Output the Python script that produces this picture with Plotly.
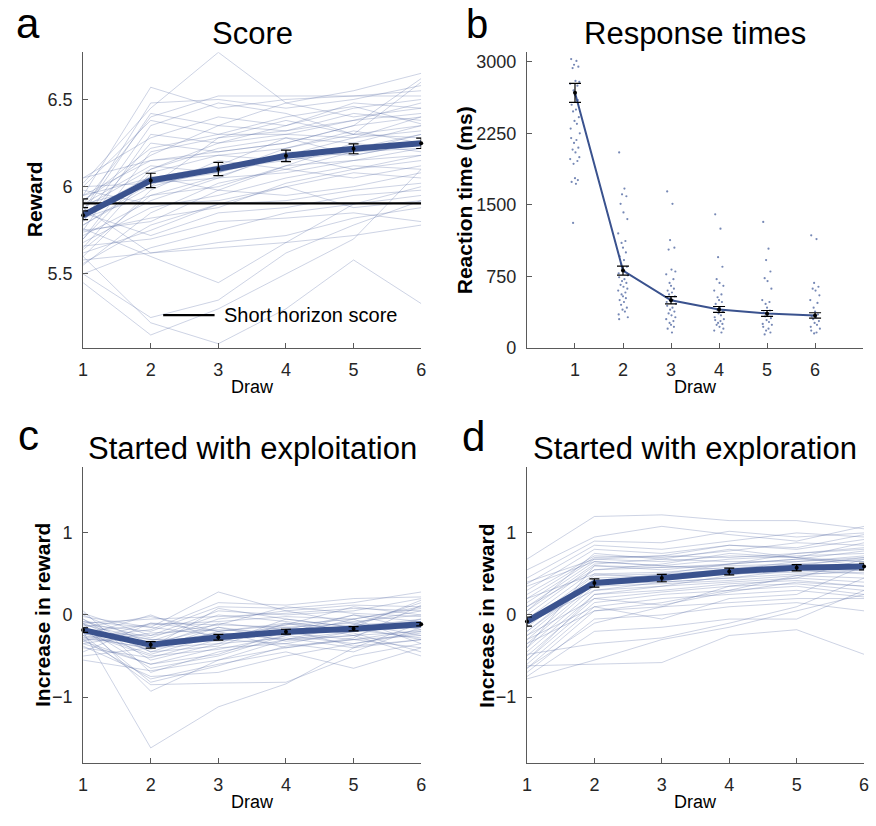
import plotly.graph_objects as go

W, H = 876, 826
FONT = "Liberation Sans, Arial, Helvetica, sans-serif"

draws = [1, 2, 3, 4, 5, 6]

# ---------------- Panel a: score per draw ----------------
score_subjects = [
    [5.95, 6.57, 6.45, 6.50, 6.52, 6.55],
    [6.02, 6.45, 6.77, 6.48, 6.40, 6.45],
    [5.90, 6.40, 6.52, 6.52, 6.52, 6.52],
    [5.85, 6.42, 6.35, 6.48, 6.55, 6.65],
    [5.80, 6.35, 6.48, 6.42, 6.30, 6.60],
    [5.75, 6.30, 6.25, 6.35, 6.45, 6.50],
    [5.92, 6.22, 6.30, 6.30, 6.38, 6.42],
    [5.70, 6.20, 6.28, 6.38, 6.30, 6.35],
    [6.05, 6.15, 6.20, 6.25, 6.35, 6.40],
    [5.88, 6.10, 6.25, 6.30, 6.28, 6.32],
    [5.65, 6.08, 6.18, 6.22, 6.30, 6.28],
    [5.95, 6.05, 6.12, 6.28, 6.25, 6.35],
    [5.78, 6.00, 6.10, 6.15, 6.22, 6.30],
    [6.00, 6.02, 6.05, 6.20, 6.18, 6.25],
    [5.60, 5.98, 6.15, 6.10, 6.20, 6.22],
    [5.82, 5.95, 6.00, 6.12, 6.25, 6.20],
    [5.72, 5.92, 6.05, 6.08, 6.15, 6.18],
    [5.90, 6.12, 6.08, 6.18, 6.10, 6.15],
    [5.68, 5.88, 5.95, 6.05, 6.12, 6.10],
    [5.55, 5.85, 6.02, 6.10, 6.05, 6.12],
    [5.98, 5.90, 5.92, 6.00, 6.08, 6.05],
    [5.75, 5.80, 5.98, 5.95, 6.00, 6.08],
    [5.62, 5.75, 5.90, 5.92, 5.98, 6.02],
    [5.85, 5.72, 5.85, 5.88, 5.95, 5.98],
    [5.50, 5.65, 5.75, 5.85, 5.90, 5.95],
    [5.88, 5.62, 5.68, 5.72, 5.82, 5.88],
    [5.66, 5.70, 5.80, 5.82, 5.85, 5.80],
    [5.58, 5.62, 5.65, 5.68, 5.72, 5.78],
    [5.50, 5.25, 5.35, 5.62, 5.78, 5.92],
    [5.45, 5.15, 5.30, 5.50, 5.70, 6.10],
    [5.60, 5.22, 5.10, 5.30, 5.58, 5.33],
    [5.92, 6.18, 6.35, 6.32, 6.42, 6.38],
    [5.80, 6.25, 6.20, 6.25, 6.35, 6.62],
    [5.70, 6.10, 6.22, 6.28, 6.18, 6.25],
    [6.05, 6.28, 6.40, 6.35, 6.48, 6.45],
    [5.78, 6.02, 6.08, 6.22, 6.32, 6.25],
    [5.95, 6.15, 6.18, 6.15, 6.20, 6.30],
    [5.85, 6.06, 5.98, 6.12, 6.15, 6.22],
    [5.64, 5.95, 6.06, 6.18, 6.28, 6.40],
    [5.74, 5.82, 5.88, 6.02, 6.10, 6.18],
    [6.00, 6.38, 6.30, 6.40, 6.46, 6.36],
    [5.86, 6.48, 6.50, 6.45, 6.50, 6.58],
    [5.56, 5.78, 5.90, 6.00, 5.88, 5.92],
    [5.90, 6.00, 6.28, 6.32, 6.38, 6.48],
    [5.76, 5.60, 5.45, 5.68, 5.90, 6.00],
]
score_mean = [5.836, 6.036, 6.102, 6.177, 6.217, 6.249]
score_sem = [0.025, 0.041, 0.038, 0.033, 0.028, 0.030]
short_horizon_score = 5.905
short_horizon_sem = 0.025

# ---------------- Panel b: response times (ms) ----------------
rt_draw1 = [3030, 3010, 2970, 2950, 2935, 2800, 2790, 2770, 2750, 2700,
            2650, 2600, 2550, 2500, 2480, 2420, 2380, 2350, 2300, 2250,
            2200, 2180, 2150, 2100, 2080, 2050, 2000, 1980, 1960, 1930,
            1780, 1760, 1740, 1720, 1310]
rt_draw2 = [2050, 1670, 1610, 1590, 1510, 1420, 1350, 1200, 1120, 1100,
            1050, 1000, 960, 920, 880, 850, 830, 800, 780, 760,
            740, 720, 700, 680, 660, 640, 620, 600, 580, 560,
            540, 520, 500, 480, 450, 420, 400, 380, 350, 320, 300]
rt_draw3 = [1640, 1510, 1130, 1050, 1030, 820, 800, 770, 720, 680,
            650, 620, 600, 580, 560, 540, 520, 500, 480, 460,
            440, 420, 400, 380, 360, 340, 320, 300, 280, 260,
            240, 220, 200, 160]
rt_draw4 = [1400, 1250, 950, 850, 720, 680, 650, 600, 560, 530,
            500, 480, 460, 420, 400, 380, 360, 340, 320, 300,
            290, 280, 260, 250, 240, 220, 200, 180, 160]
rt_draw5 = [1320, 1040, 920, 800, 730, 700, 620, 500, 480, 460,
            420, 390, 370, 350, 330, 310, 290, 270, 250, 240,
            220, 200, 180, 160, 140]
rt_draw6 = [1180, 1140, 680, 640, 620, 600, 550, 500, 470, 420,
            380, 350, 330, 320, 300, 280, 260, 240, 220, 200,
            180, 160, 150]
rt_by_draw = [rt_draw1, rt_draw2, rt_draw3, rt_draw4, rt_draw5, rt_draw6]
rt_mean = [2675, 810, 498, 402, 360, 339]
rt_sem = [99, 47, 38, 31, 31, 28]

# ---------------- Panel c: started with exploitation ----------------
exploit_subjects = [
    [-0.20, -1.62, -1.12, -0.84, -0.40, -0.30],
    [-0.10, -0.93, -0.55, -0.40, -0.30, -0.25],
    [-0.25, -0.85, -0.83, -0.82, -0.50, -0.35],
    [-0.30, -0.78, -0.60, -0.45, -0.65, -0.40],
    [0.05, -0.70, -0.45, -0.30, -0.25, -0.50],
    [-0.15, -0.65, -0.50, -0.25, -0.35, -0.20],
    [-0.35, -0.60, -0.40, -0.35, -0.20, -0.15],
    [-0.05, -0.55, -0.35, -0.28, -0.40, -0.10],
    [-0.40, -0.52, -0.30, -0.20, -0.15, -0.30],
    [-0.20, -0.48, -0.25, -0.15, -0.10, 0.05],
    [-0.10, -0.45, -0.20, -0.10, -0.25, -0.20],
    [-0.25, -0.42, -0.15, -0.25, -0.05, 0.10],
    [-0.50, -0.40, -0.35, -0.05, -0.15, -0.05],
    [-0.15, -0.38, -0.10, -0.18, 0.00, -0.08],
    [0.00, -0.35, -0.22, -0.30, -0.12, 0.15],
    [-0.30, -0.32, -0.05, 0.05, -0.10, -0.25],
    [-0.18, -0.30, -0.28, -0.12, 0.10, 0.00],
    [-0.08, -0.28, 0.00, -0.08, -0.20, -0.12],
    [-0.22, -0.25, 0.05, 0.00, 0.05, 0.20],
    [-0.35, -0.22, -0.18, -0.22, -0.30, -0.18],
    [-0.12, -0.20, 0.10, 0.08, 0.15, 0.28],
    [-0.28, -0.18, 0.15, 0.12, 0.20, 0.22],
    [-0.02, -0.15, 0.28, 0.05, 0.12, 0.10],
    [-0.20, -0.12, -0.08, -0.02, -0.05, -0.35],
    [-0.45, -0.10, -0.12, -0.15, -0.22, -0.45],
    [-0.10, -0.05, -0.02, 0.02, 0.08, 0.05],
    [-0.25, 0.00, -0.30, -0.35, -0.45, -0.15],
    [-0.15, -0.02, -0.20, -0.40, -0.28, 0.12],
    [-0.32, -0.60, -0.48, -0.20, -0.08, 0.00],
    [-0.05, -0.45, -0.38, -0.10, -0.18, -0.28],
    [-0.38, -0.75, -0.70, -0.50, -0.35, -0.22],
    [-0.18, -0.35, -0.15, -0.32, -0.25, -0.05],
    [0.02, -0.25, -0.12, 0.10, 0.02, -0.02],
    [-0.22, -0.50, -0.42, -0.25, -0.12, -0.08],
    [-0.12, -0.30, -0.32, -0.18, -0.38, -0.30],
    [-0.28, -0.40, 0.08, -0.05, -0.15, 0.18],
    [-0.55, -0.68, -0.55, -0.30, -0.20, -0.12],
    [-0.08, -0.15, -0.25, -0.22, 0.00, -0.18],
    [-0.16, -0.82, -0.62, -0.38, -0.30, -0.40],
    [-0.32, -0.10, -0.20, -0.12, -0.05, 0.08],
]
exploit_mean = [-0.184, -0.364, -0.272, -0.204, -0.168, -0.112]
exploit_sem = [0.028, 0.040, 0.035, 0.030, 0.025, 0.020]

# ---------------- Panel d: started with exploration ----------------
explore_subjects = [
    [0.68, 1.20, 1.22, 1.15, 1.15, 1.05],
    [0.55, 0.95, 1.08, 0.98, 0.90, 1.08],
    [0.45, 0.90, 0.88, 1.02, 0.95, 1.00],
    [0.38, 0.85, 0.80, 0.90, 1.00, 0.95],
    [0.30, 0.80, 0.75, 0.85, 0.80, 0.92],
    [0.25, 0.72, 0.70, 0.78, 0.88, 0.85],
    [0.20, 0.70, 0.72, 0.70, 0.75, 0.80],
    [0.15, 0.68, 0.65, 0.72, 0.70, 0.88],
    [0.10, 0.65, 0.60, 0.68, 0.72, 0.75],
    [0.05, 0.62, 0.68, 0.65, 0.65, 0.70],
    [0.00, 0.60, 0.55, 0.62, 0.68, 0.65],
    [-0.05, 0.55, 0.58, 0.60, 0.62, 0.68],
    [-0.10, 0.50, 0.52, 0.58, 0.60, 0.62],
    [-0.15, 0.48, 0.50, 0.55, 0.58, 0.60],
    [-0.20, 0.45, 0.48, 0.52, 0.55, 0.58],
    [-0.25, 0.42, 0.42, 0.50, 0.52, 0.55],
    [-0.30, 0.38, 0.40, 0.45, 0.50, 0.52],
    [-0.35, 0.35, 0.38, 0.42, 0.48, 0.45],
    [-0.40, 0.30, 0.35, 0.40, 0.45, 0.40],
    [-0.45, 0.25, 0.30, 0.38, 0.42, 0.35],
    [-0.50, 0.20, 0.28, 0.35, 0.38, 0.30],
    [-0.55, 0.15, 0.25, 0.30, 0.35, 0.25],
    [-0.60, 0.10, 0.20, 0.25, 0.30, 0.22],
    [-0.65, 0.05, 0.10, 0.15, 0.20, 0.20],
    [-0.70, -0.05, 0.00, 0.10, 0.15, 0.05],
    [-0.75, -0.20, -0.15, -0.05, -0.05, 0.30],
    [-0.62, -0.60, -0.58, -0.25, -0.18, -0.48],
    [-0.78, -0.55, -0.30, -0.15, 0.05, 0.25],
    [-0.48, -0.35, -0.28, -0.10, 0.10, 0.45],
    [-0.30, 0.10, -0.05, 0.20, 0.25, 0.60],
    [0.35, 0.65, 0.60, 0.55, 0.65, 0.72],
    [0.10, 0.55, 0.62, 0.75, 0.70, 0.65],
    [-0.20, 0.40, 0.50, 0.62, 0.68, 0.78],
    [-0.40, 0.60, 0.58, 0.62, 0.75, 0.82],
    [0.05, 0.75, 0.68, 0.80, 0.70, 0.60],
    [-0.55, 0.25, 0.35, 0.48, 0.60, 0.70],
    [0.20, 0.50, 0.45, 0.55, 0.62, 0.58],
    [-0.35, 0.05, 0.15, 0.30, 0.48, 0.55],
    [-0.10, 0.30, 0.40, 0.45, 0.55, 0.50],
    [-0.65, -0.10, 0.10, 0.35, 0.45, 0.68],
    [0.40, 0.68, 0.72, 0.85, 0.82, 0.98],
    [-0.25, 0.20, 0.12, 0.28, 0.40, 0.35],
]
explore_mean = [-0.08, 0.39, 0.45, 0.53, 0.576, 0.59]
explore_sem = [0.055, 0.050, 0.045, 0.042, 0.038, 0.040]

# horizontal spread used to separate overlapping dots in panel b
jitter = [-0.08, 0.03, -0.02, 0.07, -0.05, 0.01, 0.09, -0.10, 0.05, -0.03,
          0.00, 0.06, -0.07, 0.02, -0.04, 0.08, -0.01, 0.04, -0.09, 0.10]

# styling
MEAN_BLUE = "rgb(58,82,142)"
SUBJ_BLUE = "rgba(90,110,165,0.30)"
DOT_BLUE = "rgba(60,85,150,0.7)"
AXIS_GRAY = "#5a5a5a"
TICK_TEXT = "#262626"


def px_x(left, right):
    return [left / W, right / W]


def px_y(top, bottom):
    return [1 - bottom / H, 1 - top / H]


fig = go.Figure()


def add_subjects(rows, xa, ya):
    for row in rows:
        fig.add_trace(go.Scatter(
            x=draws, y=row, mode="lines", xaxis=xa, yaxis=ya,
            line=dict(color=SUBJ_BLUE, width=1), showlegend=False,
            hoverinfo="skip"))


def add_mean(mean, sem, xa, ya, width):
    fig.add_trace(go.Scatter(
        x=draws, y=mean, mode="lines", xaxis=xa, yaxis=ya,
        line=dict(color=MEAN_BLUE, width=width), showlegend=False))
    fig.add_trace(go.Scatter(
        x=draws, y=mean, mode="markers", xaxis=xa, yaxis=ya,
        marker=dict(color="black", size=4),
        error_y=dict(type="data", array=sem, color="black",
                     thickness=1.2, width=5),
        showlegend=False, cliponaxis=False))


# panel a
add_subjects(score_subjects, "x", "y")
fig.add_trace(go.Scatter(
    x=[draws[0], draws[-1]], y=[short_horizon_score] * 2, mode="lines",
    xaxis="x", yaxis="y", line=dict(color="black", width=2.2),
    showlegend=False))
fig.add_trace(go.Scatter(
    x=[draws[0]], y=[short_horizon_score], mode="markers",
    xaxis="x", yaxis="y", marker=dict(opacity=0, size=1),
    error_y=dict(type="data", array=[short_horizon_sem], color="black",
                 thickness=1.2, width=5),
    showlegend=False, cliponaxis=False))
add_mean(score_mean, score_sem, "x", "y", 6)

# panel b
for d, vals in zip(draws, rt_by_draw):
    xs = [d + jitter[i % len(jitter)] for i in range(len(vals))]
    fig.add_trace(go.Scatter(
        x=xs, y=vals, mode="markers", xaxis="x2", yaxis="y2",
        marker=dict(color=DOT_BLUE, size=2.2), showlegend=False))
fig.add_trace(go.Scatter(
    x=draws, y=rt_mean, mode="lines", xaxis="x2", yaxis="y2",
    line=dict(color=MEAN_BLUE, width=2), showlegend=False))
fig.add_trace(go.Scatter(
    x=draws, y=rt_mean, mode="markers", xaxis="x2", yaxis="y2",
    marker=dict(color="black", size=4),
    error_y=dict(type="data", array=rt_sem, color="black",
                 thickness=1.2, width=6),
    showlegend=False))

# panel c
add_subjects(exploit_subjects, "x3", "y3")
add_mean(exploit_mean, exploit_sem, "x3", "y3", 6)

# panel d
add_subjects(explore_subjects, "x4", "y4")
add_mean(explore_mean, explore_sem, "x4", "y4", 6)


def axis(domain, rng, tickvals, anchor):
    return dict(
        domain=domain, range=rng, tickvals=tickvals, anchor=anchor,
        showline=True, linecolor=AXIS_GRAY, linewidth=1,
        ticks="inside", ticklen=5, tickcolor=AXIS_GRAY, tickwidth=1,
        showgrid=False, zeroline=False, ticklabelstandoff=6,
        tickfont=dict(family=FONT, size=18, color=TICK_TEXT))


top_row = px_y(53, 352)
bottom_row = px_y(473, 772)
left_col = px_x(79, 421)
right_col_b = px_x(528, 868)
right_col_d = px_x(528, 869)

fig.update_layout(
    width=W, height=H, margin=dict(l=0, r=0, t=0, b=0),
    paper_bgcolor="white", plot_bgcolor="white", showlegend=False,
    xaxis=axis(left_col, [1, 6], draws, "y"),
    yaxis=axis(top_row, [5.077, 6.77], [5.5, 6, 6.5], "x"),
    xaxis2=axis(right_col_b, [0, 7], draws, "y2"),
    yaxis2=axis(top_row, [0, 3100], [0, 750, 1500, 2250, 3000], "x2"),
    xaxis3=axis(left_col, [1, 6], draws, "y3"),
    yaxis3=axis(bottom_row, [-1.8, 1.8], [-1, 0, 1], "x3"),
    xaxis4=axis(right_col_d, [1, 6], draws, "y4"),
    yaxis4=axis(bottom_row, [-1.8, 1.8], [-1, 0, 1], "x4"),
)


def note(text, x, y, size, bold=False, angle=0, xanchor="center",
         yanchor="middle"):
    fig.add_annotation(
        text=f"<b>{text}</b>" if bold else text,
        x=x / W, y=1 - y / H, xref="paper", yref="paper",
        showarrow=False, textangle=angle, xanchor=xanchor, yanchor=yanchor,
        font=dict(family=FONT, size=size, color="black"))


# panel letters
note("a", 23, 24, 42)
note("b", 477, 0, 40, yanchor="top")
note("c", 24, 441, 42)
note("d", 474, 442, 42)

# titles
note("Score", 250, 34, 31)
note("Response times", 698, 34, 31)
note("Started with exploitation", 250, 454, 31)
note("Started with exploration", 698, 454, 31)

# axis titles
note("Reward", 30, 202, 21, bold=True, angle=-90)
note("Reaction time (ms)", 465, 203, 21, bold=True, angle=-90)
note("Increase in reward", 38, 623, 21, bold=True, angle=-90)
note("Increase in reward", 487, 623, 21, bold=True, angle=-90)
note("Draw", 250, 392, 18)
note("Draw", 698, 392, 18)
note("Draw", 250, 812, 18)
note("Draw", 698, 812, 18)

# legend for the short-horizon reference line
fig.add_shape(type="line", xref="paper", yref="paper",
              x0=160 / W, x1=212 / W, y0=1 - 319 / H, y1=1 - 319 / H,
              line=dict(color="black", width=2.2))
note("Short horizon score", 219, 319, 20, xanchor="left")

fig.write_html("out.html")
